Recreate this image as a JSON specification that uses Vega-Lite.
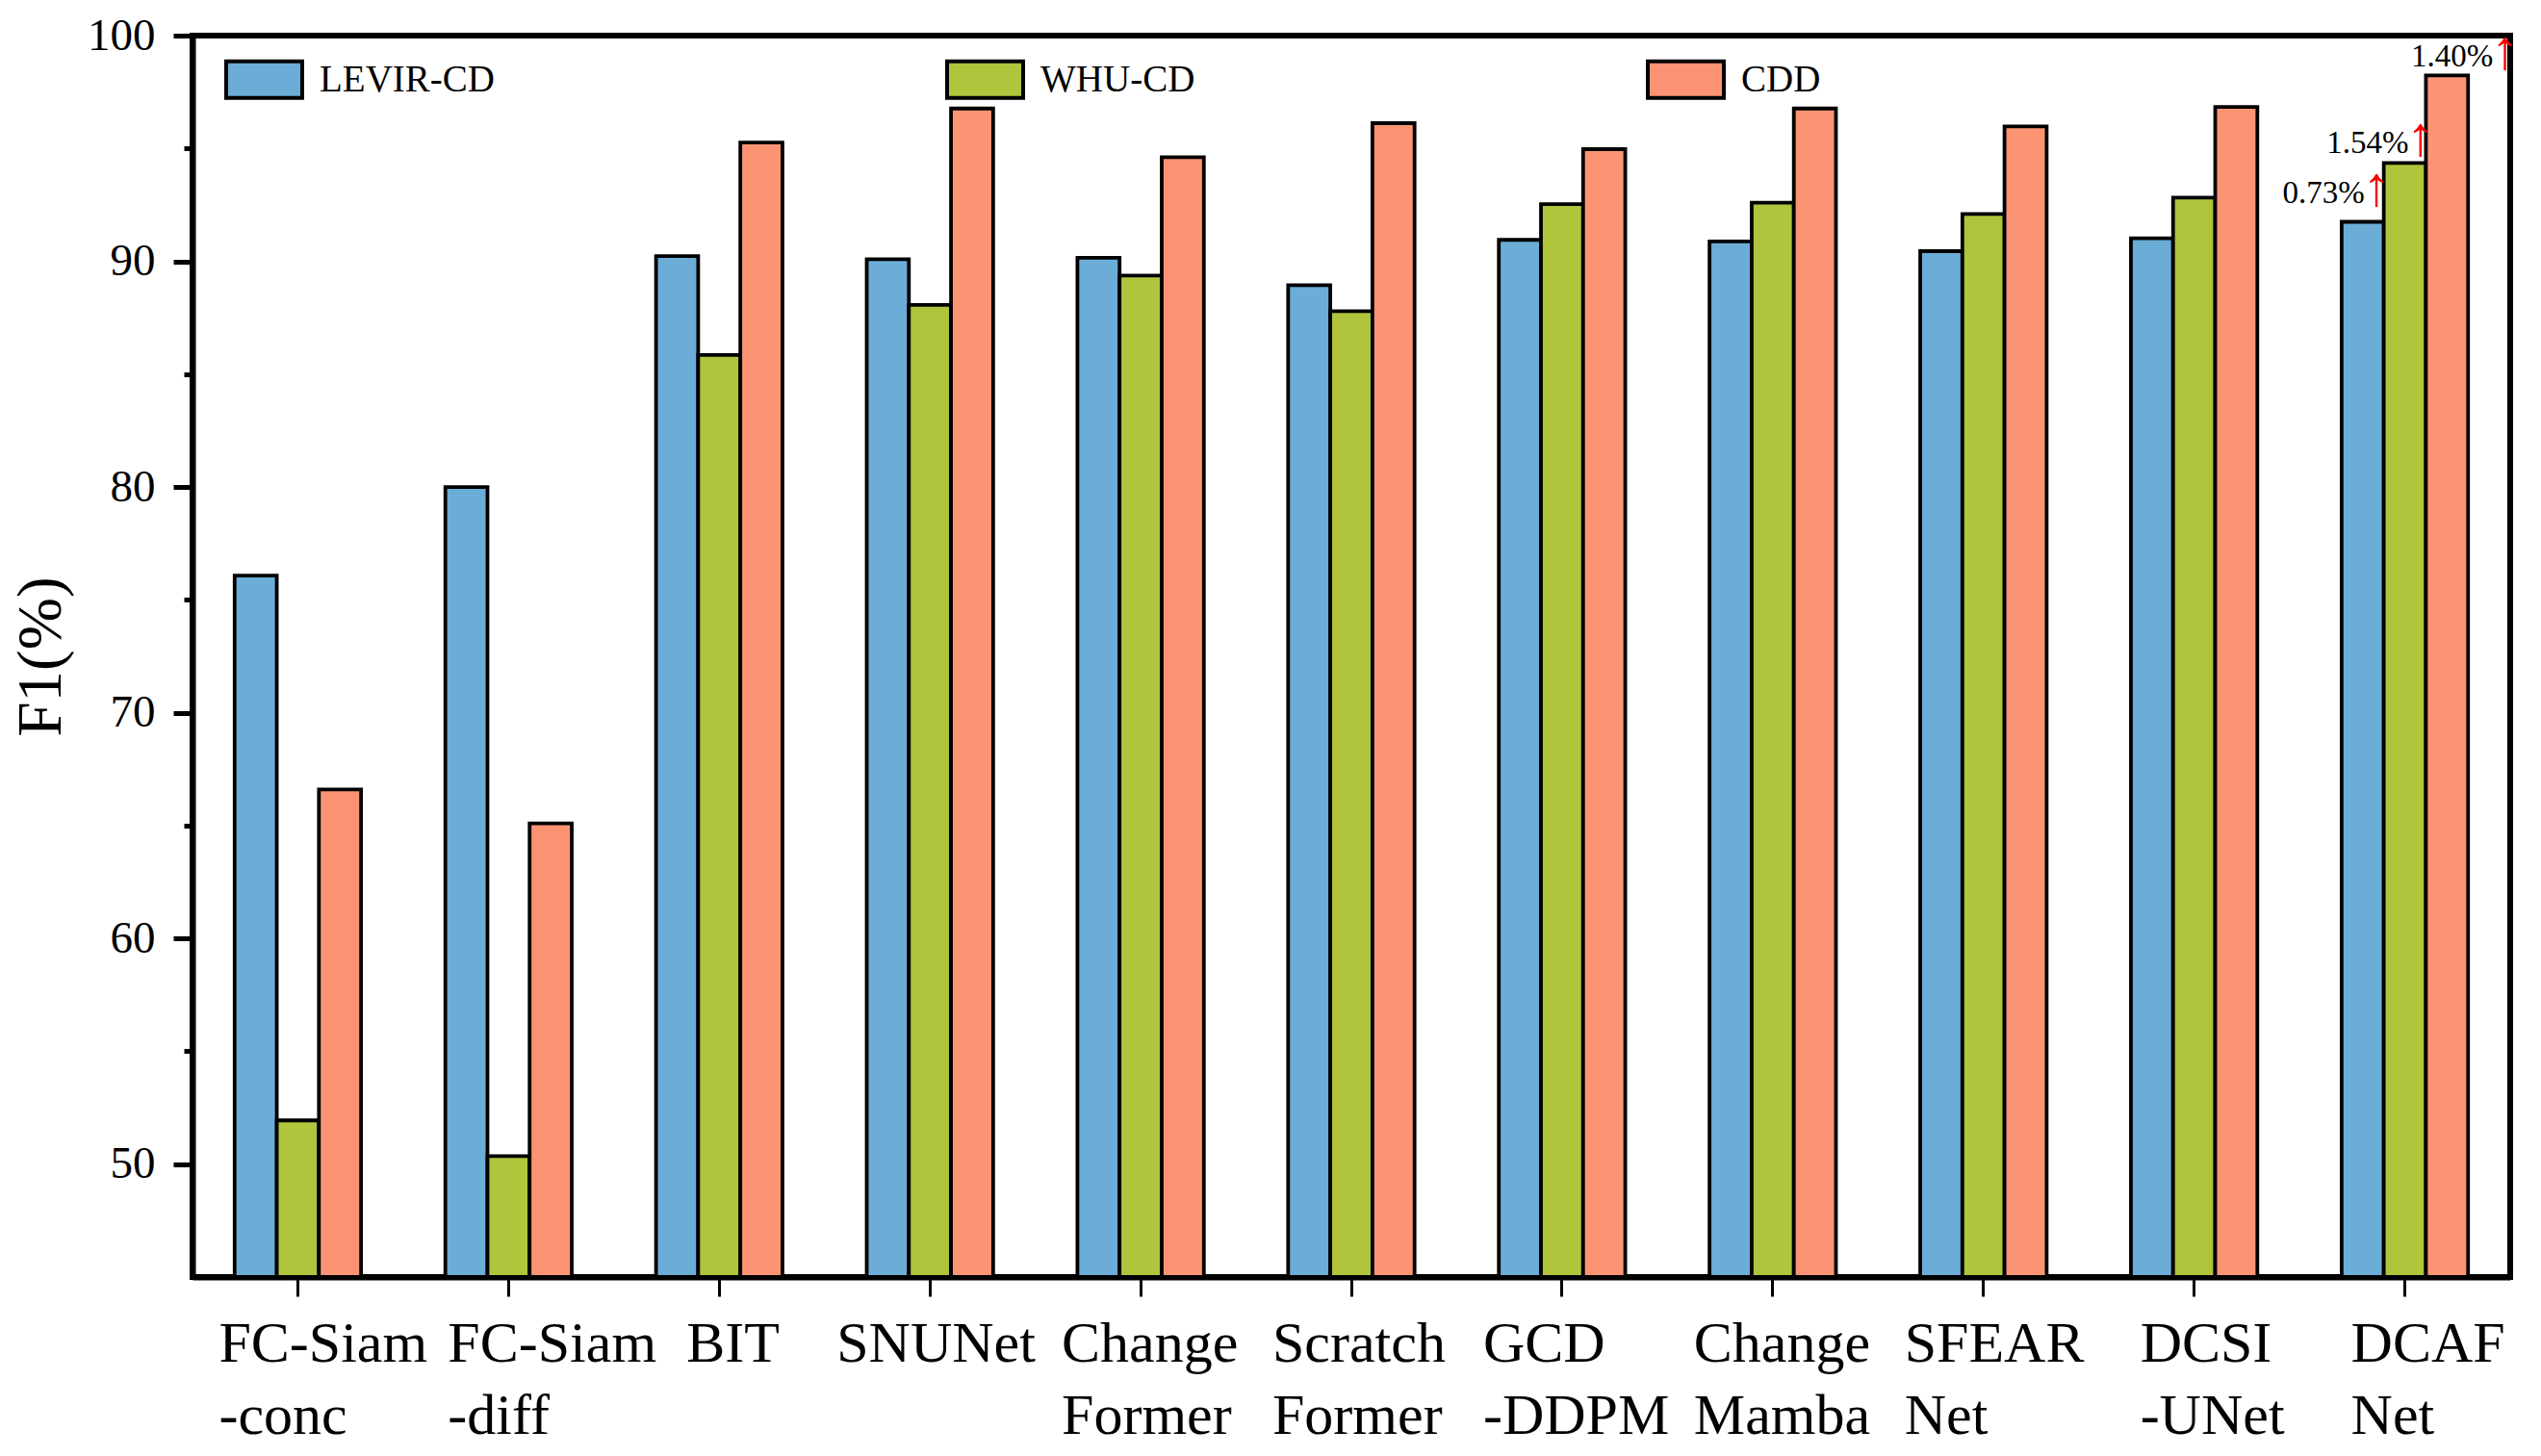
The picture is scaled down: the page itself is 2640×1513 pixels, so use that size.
{
  "$schema": "https://vega.github.io/schema/vega-lite/v6.json",
  "width": 2408,
  "height": 1290,
  "autosize": {"type": "none"},
  "padding": {"left": 200, "top": 37, "right": 32, "bottom": 186},
  "background": "white",
  "config": {
    "font": "Liberation Serif",
    "text": {"font": "Liberation Serif"},
    "legend": {"labelFont": "Liberation Serif"},
    "view": {"stroke": "black", "strokeWidth": 6},
    "axis": {
      "grid": false,
      "domainColor": "black",
      "domainWidth": 6,
      "tickColor": "black",
      "labelColor": "black",
      "titleColor": "black",
      "labelFont": "Liberation Serif",
      "titleFont": "Liberation Serif"
    }
  },
  "datasets": {
    "f1": [
      {"model": "FC-Siam -conc", "dataset": "LEVIR-CD", "f1": 76.08},
      {"model": "FC-Siam -conc", "dataset": "WHU-CD", "f1": 51.94},
      {"model": "FC-Siam -conc", "dataset": "CDD", "f1": 66.6},
      {"model": "FC-Siam -diff", "dataset": "LEVIR-CD", "f1": 80.0},
      {"model": "FC-Siam -diff", "dataset": "WHU-CD", "f1": 50.36},
      {"model": "FC-Siam -diff", "dataset": "CDD", "f1": 65.1},
      {"model": "BIT", "dataset": "LEVIR-CD", "f1": 90.23},
      {"model": "BIT", "dataset": "WHU-CD", "f1": 85.85},
      {"model": "BIT", "dataset": "CDD", "f1": 95.26},
      {"model": "SNUNet", "dataset": "LEVIR-CD", "f1": 90.09},
      {"model": "SNUNet", "dataset": "WHU-CD", "f1": 88.07},
      {"model": "SNUNet", "dataset": "CDD", "f1": 96.77},
      {"model": "Change Former", "dataset": "LEVIR-CD", "f1": 90.16},
      {"model": "Change Former", "dataset": "WHU-CD", "f1": 89.37},
      {"model": "Change Former", "dataset": "CDD", "f1": 94.61},
      {"model": "Scratch Former", "dataset": "LEVIR-CD", "f1": 88.94},
      {"model": "Scratch Former", "dataset": "WHU-CD", "f1": 87.79},
      {"model": "Scratch Former", "dataset": "CDD", "f1": 96.12},
      {"model": "GCD -DDPM", "dataset": "LEVIR-CD", "f1": 90.95},
      {"model": "GCD -DDPM", "dataset": "WHU-CD", "f1": 92.53},
      {"model": "GCD -DDPM", "dataset": "CDD", "f1": 94.97},
      {"model": "Change Mamba", "dataset": "LEVIR-CD", "f1": 90.88},
      {"model": "Change Mamba", "dataset": "WHU-CD", "f1": 92.6},
      {"model": "Change Mamba", "dataset": "CDD", "f1": 96.77},
      {"model": "SFEAR Net", "dataset": "LEVIR-CD", "f1": 90.45},
      {"model": "SFEAR Net", "dataset": "WHU-CD", "f1": 92.1},
      {"model": "SFEAR Net", "dataset": "CDD", "f1": 95.98},
      {"model": "DCSI -UNet", "dataset": "LEVIR-CD", "f1": 91.02},
      {"model": "DCSI -UNet", "dataset": "WHU-CD", "f1": 92.82},
      {"model": "DCSI -UNet", "dataset": "CDD", "f1": 96.84},
      {"model": "DCAF Net", "dataset": "LEVIR-CD", "f1": 91.75},
      {"model": "DCAF Net", "dataset": "WHU-CD", "f1": 94.36},
      {"model": "DCAF Net", "dataset": "CDD", "f1": 98.24}
    ],
    "gains": [
      {"model": "DCAF Net", "dataset": "LEVIR-CD", "f1": 91.75, "gain": "0.73%"},
      {"model": "DCAF Net", "dataset": "WHU-CD", "f1": 94.36, "gain": "1.54%"},
      {"model": "DCAF Net", "dataset": "CDD", "f1": 98.24, "gain": "1.40%"}
    ]
  },
  "data": {"name": "f1"},
  "encoding": {
    "x": {
      "field": "model",
      "type": "nominal",
      "sort": null,
      "scale": {"paddingInner": 0.4, "paddingOuter": 0.2},
      "axis": {
        "title": null,
        "labelExpr": "split(datum.label, ' ')",
        "labelAngle": 0,
        "labelAlign": "left",
        "labelBaseline": "top",
        "labelOffset": {
          "condition": [
            {"test": "datum.value === 'BIT'", "value": -34},
            {"test": "datum.value === 'SNUNet'", "value": -97},
            {"test": "datum.value === 'FC-Siam -diff'", "value": -63},
            {"test": "datum.value === 'DCSI -UNet'", "value": -56},
            {"test": "datum.value === 'DCAF Net'", "value": -56}
          ],
          "value": -82
        },
        "labelFontSize": 60,
        "labelLineHeight": 75,
        "labelPadding": 20,
        "labelLimit": 500,
        "labelOverlap": false,
        "labelFlush": false,
        "tickSize": 20,
        "tickWidth": 3
      }
    },
    "xOffset": {
      "field": "dataset",
      "type": "nominal",
      "scale": {"domain": ["LEVIR-CD", "WHU-CD", "CDD"], "paddingInner": 0, "paddingOuter": 0}
    },
    "y": {
      "field": "f1",
      "type": "quantitative",
      "scale": {"domain": [45, 100], "nice": false, "zero": false},
      "axis": {
        "title": "F1(%)",
        "titleFontSize": 65,
        "titleFontWeight": "normal",
        "titlePadding": 14,
        "values": [50, 55, 60, 65, 70, 75, 80, 85, 90, 95, 100],
        "labelExpr": "datum.value % 10 === 0 ? datum.label : ''",
        "labelFontSize": 47,
        "labelPadding": 19,
        "tickSize": {"condition": {"test": "datum.value % 10 === 0", "value": 20}, "value": 9},
        "tickWidth": 5
      }
    }
  },
  "layer": [
    {
      "mark": {"type": "bar", "stroke": "black", "strokeWidth": 3.8},
      "encoding": {
        "y2": {"datum": 45},
        "color": {
          "field": "dataset",
          "type": "nominal",
          "scale": {"domain": ["LEVIR-CD", "WHU-CD", "CDD"], "range": ["#6BADD6", "#B0C43C", "#FC9474"]},
          "legend": {
            "title": null,
            "orient": "none",
            "legendX": 33,
            "legendY": 4,
            "direction": "horizontal",
            "gridAlign": "each",
            "columnPadding": 462,
            "padding": 0,
            "symbolType": "M-1,-0.48H1V0.48H-1Z",
            "symbolSize": 6241,
            "symbolStrokeColor": "black",
            "symbolStrokeWidth": 4,
            "symbolOpacity": 1,
            "labelFont": "Liberation Serif",
            "labelFontSize": 39,
            "labelColor": "black",
            "labelOffset": 16,
            "labelLimit": 500,
            "encode": {"labels": {"update": {"font": {"value": "Liberation Serif"}, "fontWeight": {"value": "normal"}}}}
          }
        }
      }
    },
    {
      "data": {"name": "gains"},
      "transform": [{"filter": "datum.dataset === 'LEVIR-CD'"}],
      "layer": [
        {"mark": {"type": "text", "font": "Liberation Serif", "align": "right", "baseline": "alphabetic", "dx": 2, "dy": -20, "fontSize": 33, "color": "black"}, "encoding": {"text": {"field": "gain"}}},
        {"mark": {"type": "text", "font": "Liberation Serif", "align": "left", "baseline": "alphabetic", "dx": 0, "dy": -18, "fontSize": 58, "color": "red"}, "encoding": {"text": {"value": "↑"}}}
      ]
    },
    {
      "data": {"name": "gains"},
      "transform": [{"filter": "datum.dataset === 'WHU-CD'"}],
      "layer": [
        {"mark": {"type": "text", "font": "Liberation Serif", "align": "right", "baseline": "alphabetic", "dx": 4, "dy": -10, "fontSize": 33, "color": "black"}, "encoding": {"text": {"field": "gain"}}},
        {"mark": {"type": "text", "font": "Liberation Serif", "align": "left", "baseline": "alphabetic", "dx": 2, "dy": -8, "fontSize": 58, "color": "red"}, "encoding": {"text": {"value": "↑"}}}
      ]
    },
    {
      "data": {"name": "gains"},
      "transform": [{"filter": "datum.dataset === 'CDD'"}],
      "layer": [
        {"mark": {"type": "text", "font": "Liberation Serif", "align": "right", "baseline": "alphabetic", "dx": 48, "dy": -9, "fontSize": 33, "color": "black"}, "encoding": {"text": {"field": "gain"}}},
        {"mark": {"type": "text", "font": "Liberation Serif", "align": "left", "baseline": "alphabetic", "dx": 46, "dy": -7, "fontSize": 58, "color": "red"}, "encoding": {"text": {"value": "↑"}}}
      ]
    }
  ]
}
